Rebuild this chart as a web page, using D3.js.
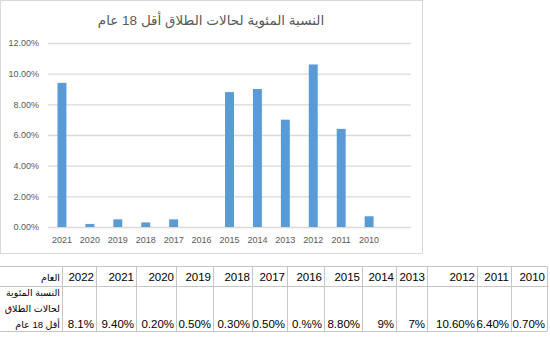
<!DOCTYPE html>
<html>
<head>
<meta charset="utf-8">
<script src="https://cdn.jsdelivr.net/npm/d3@7/dist/d3.min.js"></script>
<style>
  html, body { margin: 0; padding: 0; background: #fff; }
  svg { display: block; }
  text { font-family: "Liberation Sans", "DejaVu Sans", sans-serif; }
</style>
</head>
<body>
<svg id="chart" width="550" height="360"></svg>
<script>
// ---- data ----
const chartTitle = "النسبة المئوية لحالات الطلاق أقل 18 عام";
const categories = ["2021", "2020", "2019", "2018", "2017", "2016", "2015", "2014", "2013", "2012", "2011", "2010", ""];
const values = [9.4, 0.2, 0.5, 0.3, 0.5, null, 8.8, 9.0, 7.0, 10.6, 6.4, 0.7, null];
const yTicks = [0, 2, 4, 6, 8, 10, 12];

const tableHeaderLabel = "العام";
const tableRowLabel = ["النسبة المئوية", "لحالات الطلاق", "أقل 18 عام"];
const tableYears = ["2022", "2021", "2020", "2019", "2018", "2017", "2016", "2015", "2014", "2013", "2012", "2011", "2010"];
const tableValues = ["8.1%", "9.40%", "0.20%", "0.50%", "0.30%", "0.50%", "0.%%", "8.80%", "9%", "7%", "10.60%", "6.40%", "0.70%"];

// ---- layout ----
const colWidths = [63, 34, 40, 40, 37, 39, 35, 37, 38, 34, 31, 50, 34, 36];
const svg = d3.select("#chart");
const textColor = "#595959";

// chart frame
svg.append("rect").attr("x", 0.5).attr("y", 0.5).attr("width", 422).attr("height", 253)
  .attr("fill", "#fff").attr("stroke", "#d9d9d9").attr("stroke-width", 1);

// title
svg.append("text").attr("x", 211).attr("y", 25).attr("text-anchor", "middle")
  .attr("font-size", 13.5).attr("fill", textColor).text(chartTitle);

const x = d3.scaleBand().domain(categories).range([48, 411]).paddingInner(0.68).paddingOuter(0.34);
const y = d3.scaleLinear().domain([0, 12]).range([227, 43]);

// gridlines
const yAxis = d3.axisLeft(y).tickValues(yTicks).tickSize(-(411 - 48))
  .tickFormat(d => d3.format(".2f")(d) + "%");
const gy = svg.append("g").attr("transform", "translate(48,0)").call(yAxis);
gy.select(".domain").remove();
gy.selectAll(".tick line").attr("stroke", "#d9d9d9").attr("stroke-width", 1.3);
gy.selectAll(".tick text").attr("x", -9).attr("fill", textColor)
  .attr("font-size", 9).attr("font-family", "Liberation Sans, DejaVu Sans, sans-serif");

// bars
svg.append("g").selectAll("rect")
  .data(categories.map((c, i) => ({ c, v: values[i] })).filter(d => d.v != null))
  .join("rect")
  .attr("x", d => x(d.c))
  .attr("width", x.bandwidth())
  .attr("y", d => y(d.v))
  .attr("height", d => y(0) - y(d.v))
  .attr("fill", "#5b9bd5");

// x labels
const xAxis = d3.axisBottom(x).tickSize(0).tickPadding(0);
const gx = svg.append("g").attr("transform", "translate(0,236)").call(xAxis);
gx.select(".domain").remove();
gx.selectAll(".tick text").attr("fill", textColor).attr("font-size", 9)
  .attr("font-family", "Liberation Sans, DejaVu Sans, sans-serif").attr("dy", "0.75em");

// ---- table ----
const tTop = 266.5, tMid = 286.5, tBot = 331.5, tRight = 547.5;
const edges = [0];
colWidths.forEach(w => edges.push(edges[edges.length - 1] + w));
const tbl = svg.append("g");
const lineColor = "#c6c6c6";
[tTop, tMid, tBot].forEach(yy => {
  tbl.append("line").attr("x1", 0).attr("x2", tRight).attr("y1", yy).attr("y2", yy)
    .attr("stroke", lineColor);
});
edges.slice(1).forEach(ex => {
  tbl.append("line").attr("x1", ex - 0.5).attr("x2", ex - 0.5).attr("y1", tTop).attr("y2", tBot)
    .attr("stroke", lineColor);
});

// header row
tbl.append("text").attr("x", edges[1] - 3).attr("y", 281).attr("text-anchor", "end")
  .attr("font-size", 9.5).attr("fill", "#000").text(tableHeaderLabel);
tbl.selectAll("text.yr").data(tableYears).join("text").attr("class", "yr")
  .attr("x", (d, i) => edges[i + 2] - 3).attr("y", 281).attr("text-anchor", "end")
  .attr("font-size", 11.5).attr("fill", "#000").text(d => d);

// data row
tableRowLabel.forEach((t, i) => {
  tbl.append("text").attr("x", edges[1] - 3).attr("y", 296 + i * 16).attr("text-anchor", "end")
    .attr("font-size", 9.5).attr("fill", "#000").text(t);
});
tbl.selectAll("text.val").data(tableValues).join("text").attr("class", "val")
  .attr("x", (d, i) => edges[i + 2] - 3).attr("y", 328).attr("text-anchor", "end")
  .attr("font-size", 11.5).attr("fill", "#000").text(d => d);
</script>
</body>
</html>
